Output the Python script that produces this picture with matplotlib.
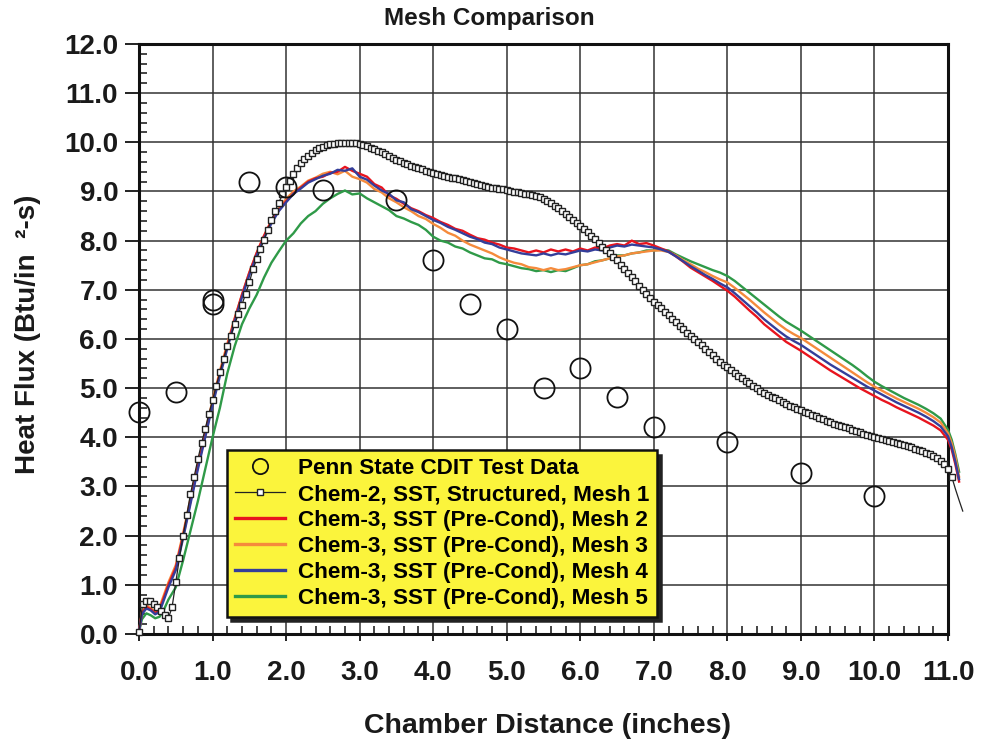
import numpy as np
import matplotlib
matplotlib.use("Agg")
import matplotlib.pyplot as plt
from matplotlib.ticker import MultipleLocator, FormatStrFormatter
from matplotlib.lines import Line2D

plt.rcParams['font.family'] = ['Liberation Sans', 'DejaVu Sans']
plt.rcParams['font.weight'] = 'bold'

# ---------------- data ----------------
test_x = [0.0, 0.5, 1.0, 1.0, 1.5, 2.0, 2.5, 3.5, 4.0, 4.5, 5.0, 5.5, 6.0, 6.5, 7.0, 8.0, 9.0, 10.0]
test_y = [4.52, 4.92, 6.8, 6.72, 9.2, 9.1, 9.02, 8.82, 7.6, 6.72, 6.2, 5.0, 5.4, 4.82, 4.2, 3.9, 3.28, 2.8]

# Mesh 1 (structured) sampled every 0.05 in from 0 to 11.0, then a tail
mesh1_x = list(np.round(np.arange(0.0, 11.0001, 0.05), 2)) + [11.05, 11.1, 11.15, 11.2]
mesh1_y = [
    0.05, 0.62, 0.68, 0.68, 0.62, 0.55, 0.47, 0.38, 0.32, 0.55,
    1.05, 1.55, 2.0, 2.42, 2.85, 3.2, 3.55, 3.88, 4.17, 4.48,
    4.75, 5.05, 5.32, 5.6, 5.85, 6.07, 6.3, 6.5, 6.7, 6.92,
    7.15, 7.42, 7.62, 7.82, 8.02, 8.22, 8.42, 8.6, 8.77, 8.94,
    9.1, 9.22, 9.35, 9.48, 9.58, 9.66, 9.73, 9.79, 9.84, 9.88,
    9.91, 9.94, 9.96, 9.97, 9.98, 9.99, 9.99, 9.99, 9.99, 9.98,
    9.97, 9.95, 9.92, 9.89, 9.86, 9.83, 9.8, 9.77, 9.73, 9.69,
    9.65, 9.61, 9.58, 9.55, 9.52, 9.5, 9.47, 9.45, 9.42, 9.4,
    9.38, 9.36, 9.34, 9.32, 9.3, 9.28, 9.27, 9.25, 9.24, 9.22,
    9.2, 9.18, 9.16, 9.14, 9.12, 9.1, 9.08, 9.07, 9.05, 9.04,
    9.02, 9.0, 8.99, 8.98, 8.97, 8.95, 8.94, 8.92, 8.91, 8.88,
    8.84, 8.8, 8.76, 8.71, 8.66, 8.6, 8.54, 8.48, 8.42, 8.36,
    8.3, 8.23, 8.17, 8.1, 8.03, 7.96, 7.88, 7.81, 7.74, 7.67,
    7.6, 7.51, 7.43, 7.34, 7.26, 7.17, 7.08, 7.0, 6.92, 6.84,
    6.76, 6.69, 6.62, 6.55, 6.48, 6.41, 6.34, 6.27, 6.2, 6.13,
    6.07, 6.0, 5.94, 5.87, 5.8, 5.73, 5.67, 5.6, 5.54, 5.48,
    5.42, 5.36, 5.31, 5.25, 5.2, 5.15, 5.1, 5.05, 5.0, 4.95,
    4.91, 4.87, 4.83, 4.79, 4.76, 4.72, 4.68, 4.64, 4.61, 4.58,
    4.55, 4.52, 4.49, 4.46, 4.43, 4.4, 4.37, 4.34, 4.31, 4.28,
    4.26, 4.23, 4.21, 4.18, 4.15, 4.12, 4.1, 4.07, 4.05, 4.02,
    4.0, 3.98, 3.96, 3.94, 3.92, 3.9, 3.88, 3.86, 3.84, 3.82,
    3.8, 3.77, 3.75, 3.72, 3.69, 3.66, 3.62, 3.57, 3.52, 3.45,
    3.36,
    3.2, 2.95, 2.72, 2.5,
]

# Chem-3 meshes share one sampling
chem3_x = ([0.0, 0.04, 0.1, 0.16, 0.22, 0.28, 0.34, 0.4]
           + list(np.round(np.arange(0.5, 11.0001, 0.1), 2))
           + [11.05, 11.1, 11.15])

mesh2_y = [0.05, 0.42, 0.55, 0.5, 0.42, 0.5, 0.75, 1.0,
    1.35, 2.0, 2.7, 3.4, 4.05, 4.7, 5.3, 5.85, 6.4, 6.9,
    7.35, 7.75, 8.1, 8.4, 8.62, 8.8, 8.96, 9.08, 9.2, 9.27,
    9.3, 9.38, 9.4, 9.5, 9.42, 9.36, 9.3, 9.15, 9.08, 8.92,
    8.85, 8.75, 8.66, 8.6, 8.52, 8.46, 8.38, 8.32, 8.24, 8.2,
    8.12, 8.05, 8.02, 7.96, 7.92, 7.86, 7.84, 7.8, 7.76, 7.8,
    7.76, 7.82, 7.78, 7.82, 7.78, 7.84, 7.8, 7.86, 7.84, 7.9,
    7.93, 7.9, 8.0, 7.93, 7.95, 7.9, 7.84, 7.78, 7.68, 7.57,
    7.45, 7.36, 7.27, 7.18, 7.08, 6.98, 6.86, 6.72, 6.58, 6.45,
    6.3, 6.18, 6.06, 5.94, 5.85, 5.76, 5.66, 5.56, 5.46, 5.36,
    5.27, 5.18, 5.09, 5.0, 4.92, 4.84, 4.76, 4.69, 4.61, 4.54,
    4.47, 4.4, 4.32, 4.24, 4.14, 3.95,
    3.75, 3.45, 3.1]

mesh3_y = [0.05, 0.45, 0.58, 0.52, 0.45, 0.55, 0.8, 1.05,
    1.4, 2.05, 2.75, 3.45, 4.1, 4.75, 5.35, 5.9, 6.42, 6.9,
    7.35, 7.75, 8.1, 8.4, 8.65, 8.85, 9.0, 9.1, 9.22, 9.28,
    9.36, 9.4, 9.35, 9.42, 9.3, 9.25, 9.18, 9.05, 8.98, 8.86,
    8.78, 8.68, 8.6, 8.5, 8.44, 8.34, 8.26, 8.16, 8.1, 8.0,
    7.92, 7.86, 7.8, 7.74, 7.66, 7.6, 7.55, 7.52, 7.46, 7.44,
    7.4, 7.44, 7.4, 7.42, 7.46, 7.5, 7.52, 7.56, 7.6, 7.64,
    7.68, 7.7, 7.74, 7.76, 7.78, 7.8, 7.8, 7.77, 7.7, 7.6,
    7.52, 7.43, 7.36, 7.28, 7.21, 7.15, 7.04, 6.92, 6.8, 6.67,
    6.54, 6.42, 6.3, 6.19, 6.1, 6.02, 5.92, 5.82, 5.72, 5.62,
    5.52, 5.42, 5.32, 5.22, 5.12, 5.03, 4.95, 4.87, 4.79, 4.72,
    4.65, 4.58, 4.5, 4.41, 4.3, 4.08,
    3.88, 3.6, 3.2]

mesh4_y = [0.05, 0.4, 0.52, 0.48, 0.4, 0.45, 0.7, 0.95,
    1.3, 1.95, 2.65, 3.35, 4.0, 4.65, 5.25, 5.8, 6.35, 6.85,
    7.3, 7.7, 8.05, 8.35, 8.6, 8.78, 8.95, 9.06, 9.18, 9.25,
    9.32, 9.36, 9.44, 9.42, 9.47, 9.3, 9.24, 9.12, 9.02, 8.95,
    8.82, 8.78, 8.64, 8.58, 8.5, 8.42, 8.36, 8.28, 8.22, 8.15,
    8.08, 8.03, 7.96, 7.93, 7.86, 7.82, 7.78, 7.74, 7.72, 7.7,
    7.74, 7.7, 7.74, 7.72, 7.76, 7.8, 7.78, 7.82, 7.8, 7.86,
    7.9, 7.88, 7.92, 7.9, 7.88, 7.86, 7.82, 7.77, 7.68, 7.58,
    7.48, 7.39, 7.3, 7.22, 7.13, 7.05, 6.93, 6.8, 6.67, 6.54,
    6.4, 6.28, 6.16, 6.05, 5.96, 5.88, 5.78, 5.68, 5.58, 5.48,
    5.39, 5.3, 5.21, 5.12, 5.03, 4.95, 4.87, 4.79, 4.71, 4.64,
    4.57, 4.5, 4.42, 4.33, 4.22, 4.02,
    3.8, 3.5, 3.15]

mesh5_y = [0.05, 0.3, 0.42, 0.38, 0.32, 0.35, 0.5, 0.7,
    0.95, 1.5, 2.1, 2.7, 3.35, 4.0, 4.6, 5.3, 5.85, 6.3,
    6.62, 6.9, 7.25, 7.55, 7.78, 8.0, 8.15, 8.35, 8.5, 8.6,
    8.75, 8.86, 8.95, 9.02, 8.94, 8.96, 8.86, 8.78, 8.7, 8.62,
    8.5, 8.45, 8.38, 8.32, 8.22, 8.08, 8.0, 7.96, 7.88, 7.84,
    7.76, 7.7, 7.64, 7.62, 7.55, 7.52, 7.48, 7.44, 7.42, 7.38,
    7.4, 7.36, 7.4, 7.38, 7.44, 7.5, 7.52, 7.58, 7.6, 7.64,
    7.7, 7.7, 7.74, 7.76, 7.8, 7.8, 7.82, 7.8, 7.72, 7.65,
    7.58, 7.52, 7.46, 7.4, 7.35, 7.28, 7.18, 7.06, 6.94, 6.82,
    6.7, 6.58, 6.46, 6.35, 6.26, 6.17, 6.07, 5.97, 5.87, 5.77,
    5.67, 5.57, 5.47, 5.36, 5.24, 5.13, 5.04, 4.96, 4.88, 4.8,
    4.73, 4.66, 4.58, 4.49, 4.38, 4.15,
    3.95, 3.65, 3.3]

labels = ["Penn State CDIT Test Data",
          "Chem-2, SST, Structured, Mesh 1",
          "Chem-3, SST (Pre-Cond), Mesh 2",
          "Chem-3, SST (Pre-Cond), Mesh 3",
          "Chem-3, SST (Pre-Cond), Mesh 4",
          "Chem-3, SST (Pre-Cond), Mesh 5"]
colors = {"m2": "#e8141e", "m3": "#f58b3c", "m4": "#343e9a", "m5": "#2f9a48"}

# ---------------- figure ----------------
fig = plt.figure(figsize=(9.81, 7.45), dpi=100)
ax = fig.add_axes([0.1417, 0.149, 0.8247, 0.792])

ax.plot(chem3_x, mesh5_y, color=colors["m5"], lw=1.7, zorder=3, clip_on=False)
ax.plot(chem3_x, mesh3_y, color=colors["m3"], lw=1.7, zorder=3, clip_on=False)
ax.plot(chem3_x, mesh2_y, color=colors["m2"], lw=1.7, zorder=3, clip_on=False)
ax.plot(chem3_x, mesh4_y, color=colors["m4"], lw=1.7, zorder=3, clip_on=False)
ax.plot(mesh1_x, mesh1_y, color="#222222", lw=0.9, marker="s", ms=4.4,
        mfc="white", mec="#222222", mew=1.0, markevery=slice(0, len(mesh1_x) - 3),
        zorder=4, clip_on=False)
ax.plot(test_x, test_y, ls="none", marker="o", ms=14.5, mfc="none", mec="#111111",
        mew=1.3, zorder=5, clip_on=False)

ax.set_xlim(0, 11)
ax.set_ylim(0, 12)
ax.xaxis.set_major_locator(MultipleLocator(1.0))
ax.xaxis.set_minor_locator(MultipleLocator(0.2))
ax.yaxis.set_major_locator(MultipleLocator(1.0))
ax.yaxis.set_minor_locator(MultipleLocator(0.2))
ax.xaxis.set_major_formatter(FormatStrFormatter("%.1f"))
ax.yaxis.set_major_formatter(FormatStrFormatter("%.1f"))
ax.grid(True, which="major", color="#333333", lw=1.1, zorder=1)
ax.set_axisbelow(True)
for s in ax.spines.values():
    s.set_linewidth(2.2)
    s.set_color("#111111")

ax.tick_params(axis="both", which="major", labelsize=20, width=1.3, color="#111111")
ax.tick_params(axis="y", which="major", direction="out", length=10, pad=5)
ax.tick_params(axis="x", which="major", direction="out", length=5, pad=14)
ax.tick_params(axis="both", which="minor", direction="in", length=6, width=1.1, color="#111111")
for lab in ax.get_xticklabels() + ax.get_yticklabels():
    lab.set_fontweight("bold")
    lab.set_color("#1a1a1a")

fig.text(489 / 981, 1 - 18 / 745, "Mesh Comparison", fontsize=17.5, fontweight="bold",
         ha="center", va="center", color="#1a1a1a")
fig.text(547 / 981, 1 - 726 / 745, "Chamber Distance (inches)", fontsize=20.5,
         fontweight="bold", ha="center", va="center", color="#1a1a1a")
fig.text(28 / 981, 1 - 334 / 745, "Heat Flux (Btu/in  \u00b2-s)", fontsize=20,
         fontweight="bold", ha="center", va="center", rotation=90, color="#1a1a1a")

handles = [
    Line2D([], [], ls="none", marker="o", ms=11, mfc="none", mec="#111111", mew=1.3),
    Line2D([], [], color="#222222", lw=0.9, marker="s", ms=4.4, mfc="white", mec="#222222"),
    Line2D([], [], color=colors["m2"], lw=2.4),
    Line2D([], [], color=colors["m3"], lw=2.4),
    Line2D([], [], color=colors["m4"], lw=2.4),
    Line2D([], [], color=colors["m5"], lw=2.4),
]
leg = ax.legend(handles, labels, loc="lower left", bbox_to_anchor=(0.109, 0.029),
                borderaxespad=0, fancybox=False, frameon=True,
                shadow={"ox": 3, "oy": -3, "color": "#222222", "alpha": 1.0},
                facecolor="#fbf43c", edgecolor="#111111", framealpha=1.0,
                prop={"weight": "bold", "size": 16.2}, handlelength=2.2,
                labelspacing=0.22, borderpad=0.35, handletextpad=0.6)
leg.get_frame().set_linewidth(1.8)
leg.set_zorder(10)

fig.savefig("out.png", dpi=100)
